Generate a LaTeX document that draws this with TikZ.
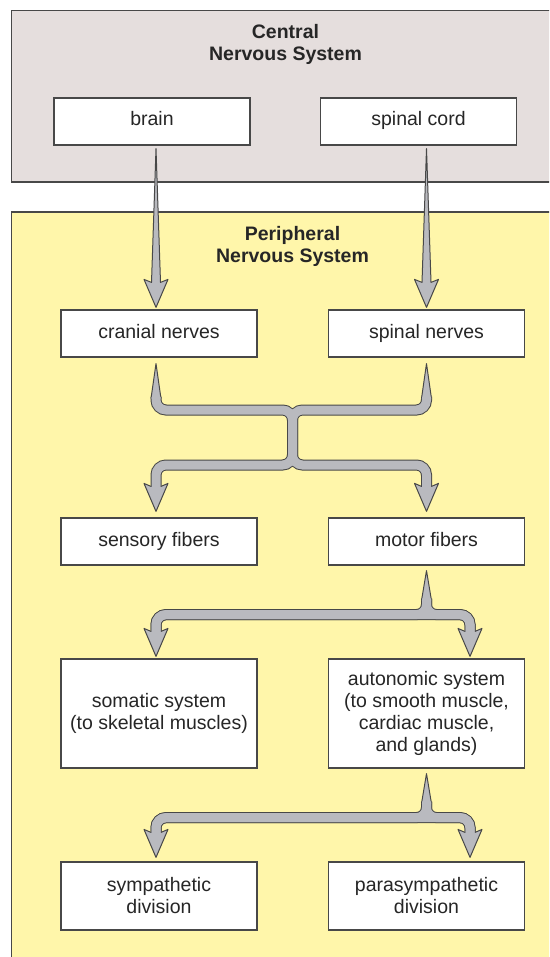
\documentclass[tikz,border=0pt]{standalone}
\usepackage{fontspec}
\setmainfont{Liberation Sans}
\usetikzlibrary{calc}

\definecolor{cnsfill}{RGB}{229,222,221}
\definecolor{pnsfill}{RGB}{255,246,170}
\definecolor{arrowgray}{RGB}{185,186,191}
\definecolor{edgegray}{RGB}{72,72,72}
\definecolor{inkgray}{RGB}{38,38,38}

% Band-shaped connectors, drawn once as a dark edge and once as a grey core
\newcommand{\nervebands}[1]{%
  % cranial + spinal nerves merge, then split to sensory and motor fibers
  \draw[#1] ($(mL)+(0,33)$) -- (mL |- mTop) -- (mTop) -- (mBot) -- (tS |- mBot) -- ($(tS)+(0,-23)$);
  \draw[#1] ($(mR)+(0,33)$) -- (mR |- mTop) -- (mTop) -- (mBot) -- (tM |- mBot) -- ($(tM)+(0,-23)$);
  % motor fibers fork
  \draw[#1] ($(fS)+(0,28)$) -- (fJ) -- (fL |- fJ) -- ($(fL)+(0,-23)$);
  \draw[#1] ($(fS)+(0,28)$) -- (fJ) -- (fR |- fJ) -- ($(fR)+(0,-23)$);
  \draw[#1] ($(fL)+(0,-23)$) -- (fL |- fJ) -- (fR |- fJ) -- ($(fR)+(0,-23)$);
  % autonomic system fork
  \draw[#1] ($(gS)+(0,28)$) -- (gJ) -- (gL |- gJ) -- ($(gL)+(0,-23)$);
  \draw[#1] ($(gS)+(0,28)$) -- (gJ) -- (gR |- gJ) -- ($(gR)+(0,-23)$);
  \draw[#1] ($(gL)+(0,-23)$) -- (gL |- gJ) -- (gR |- gJ) -- ($(gR)+(0,-23)$);
}
% tapered start of a band
\newcommand{\nervetaper}[2]{%
  \filldraw[arrowbody] ($(#1)+(-5,#2)$) -- (#1) -- ($(#1)+(5,#2)$);}
% arrow head with its tip at #1
\newcommand{\nervehead}[1]{%
  \filldraw[arrowbody] (#1) -- ($(#1)+(12,-28)$) -- ($(#1)+(5,-25)$) -- ($(#1)+(-5,-25)$) -- ($(#1)+(-12,-28)$) -- cycle;}
% single tapered arrow from #1 down to tip #2
\newcommand{\nervearrow}[2]{%
  \filldraw[arrowbody] (#1) -- ($(#2)+(4.5,-25)$) -- ($(#2)+(12,-28)$) -- (#2) -- ($(#2)+(-12,-28)$) -- ($(#2)+(-4.5,-25)$) -- cycle;}

\begin{document}
\begin{tikzpicture}[x=1pt,y=-1pt,
  region/.style={draw=edgegray, line width=1.2pt},
  box/.style={draw=edgegray, line width=1.2pt, fill=white, minimum width=196pt,
    inner sep=0pt, align=center, text=inkgray, font=\fontsize{19.5}{22}\selectfont},
  oneline/.style={box, minimum height=47pt, text height=14pt, text depth=5pt},
  heading/.style={align=center, text=inkgray, font=\fontsize{19.5}{22}\selectfont\bfseries},
  bandedge/.style={draw=edgegray, line width=11pt, rounded corners=10pt},
  bandcore/.style={draw=arrowgray, line width=9pt, rounded corners=10pt},
  arrowbody/.style={fill=arrowgray, draw=edgegray, line width=1pt, line join=round}]

\useasboundingbox (0,0) rectangle (549,957);
\clip (0,0) rectangle (549,957);

% the two regions
\path[region, fill=cnsfill] (11.5,10.5) rectangle (570,182);
\path[region, fill=pnsfill] (11.5,212) rectangle (570,980);

\node[heading] (cnstitle) at (285.5,44) {Central\\Nervous System};
\node[heading] (pnstitle) at (292.5,246) {Peripheral\\Nervous System};

% boxes
\node[oneline] (brain) at (152,121.5) {brain};
\node[oneline] (cord) at (418.5,121.5) {spinal cord};
\node[oneline] (cranial) at (159,333.5) {cranial nerves};
\node[oneline] (nerves) at (426.5,333.5) {spinal nerves};
\node[oneline] (sensory) at (159,541.5) {sensory fibers};
\node[oneline] (motor) at (426.5,541.5) {motor fibers};
\node[box, minimum height=109pt] (somatic) at (159,713.5) {somatic system\\(to skeletal muscles)};
\node[box, minimum height=109pt] (autonomic) at (426.5,713.5) {autonomic system\\(to smooth muscle,\\cardiac muscle,\\and glands)};
\node[box, minimum height=68pt] (symp) at (159,896) {sympathetic\\division};
\node[box, minimum height=68pt] (parasymp) at (426.5,896) {parasympathetic\\division};

% connector end points
\coordinate (aS) at ($(brain.south)+(4,3)$);
\coordinate (aT) at ($(cranial.north)+(-3,-2)$);
\coordinate (bS) at ($(cord.south)+(8,3)$);
\coordinate (bT) at ($(nerves.north)+(0,-2)$);

\coordinate (mL) at ($(cranial.south)+(-3,6)$);
\coordinate (mR) at ($(nerves.south)+(0,6)$);
\coordinate (mTop) at (292.5,410);
\coordinate (mBot) at (292.5,465);
\coordinate (tS) at ($(sensory.north)+(-3,-6)$);
\coordinate (tM) at ($(motor.north)+(0,-6)$);

\coordinate (fS) at ($(motor.south)+(0,5)$);
\coordinate (fJ) at ($(fS)+(0,44)$);
\coordinate (fL) at ($(somatic.north)+(-3,-2)$);
\coordinate (fR) at ($(autonomic.north)+(43.5,-2)$);

\coordinate (gS) at ($(autonomic.south)+(0,5)$);
\coordinate (gJ) at ($(gS)+(0,44)$);
\coordinate (gL) at ($(symp.north)+(-3,-4)$);
\coordinate (gR) at ($(parasymp.north)+(43.5,-4)$);

% straight arrows from the CNS
\nervearrow{aS}{aT}
\nervearrow{bS}{bT}

% branching arrows
\nervebands{bandedge}
\nervetaper{mL}{35}
\nervetaper{mR}{35}
\nervetaper{fS}{30}
\nervetaper{gS}{30}
\nervehead{tS}
\nervehead{tM}
\nervehead{fL}
\nervehead{fR}
\nervehead{gL}
\nervehead{gR}
\nervebands{bandcore}

\end{tikzpicture}
\end{document}
